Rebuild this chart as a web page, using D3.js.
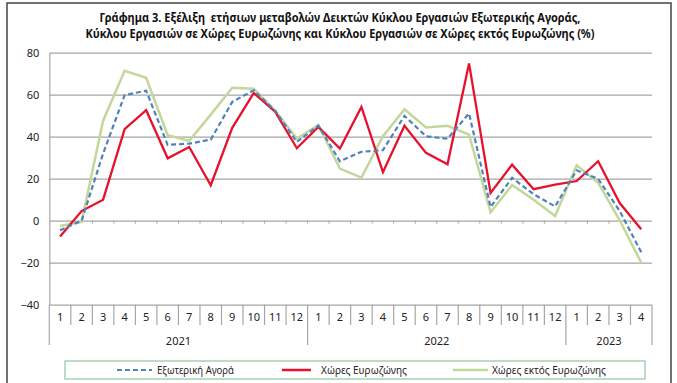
<!DOCTYPE html>
<html><head><meta charset="utf-8">
<script src="https://cdn.jsdelivr.net/npm/d3@7"></script>
<style>
html,body{margin:0;padding:0;background:#fff;}
svg{display:block;}
text.title{white-space:pre;}
</style>
</head><body>
<svg id="chart" width="677" height="383"></svg>
<script>
const titleLines = [
  "Γράφημα 3. Εξέλιξη  ετήσιων μεταβολών Δεικτών Κύκλου Εργασιών Εξωτερικής Αγοράς,",
  "Κύκλου Εργασιών σε Χώρες Ευρωζώνης και Κύκλου Εργασιών σε Χώρες εκτός Ευρωζώνης (%)"
];
const months = ["1","2","3","4","5","6","7","8","9","10","11","12","1","2","3","4","5","6","7","8","9","10","11","12","1","2","3","4"];
const yearLabels = ["2021","2022","2023"];
const yearCounts = [12,12,4];
const yTicks = [-40,-20,0,20,40,60,80];
const seriesNames = ["Εξωτερική Αγορά","Χώρες Ευρωζώνης","Χώρες εκτός Ευρωζώνης"];
const externalMarket = [-4.6,0,32,59.8,61.9,36.1,36.7,38.6,56.6,62.1,52.2,37.5,45.3,28.3,32.8,33.6,49.9,40.2,39,51.1,6.5,20.4,12.6,6.8,24.0,19.9,4.6,-15];
const eurozone = [-7.5,4.6,10,43.6,52.6,29.7,35.1,16.9,44.2,60.8,51.8,34.5,44.7,34.4,54.2,23.1,45.2,32.3,26.9,74.9,13.2,26.7,15.0,17.2,18.9,28.3,8.4,-4.1];
const nonEurozone = [-2.5,-0.6,47.6,71.4,68.1,40.7,38,50.5,63.3,62.8,52.3,39.1,45.6,24.8,20.5,40.2,53,44.4,45.2,41,4,17,10,2.2,26.4,18,0.2,-20];
const colors = ["#4F81BD","#E8112D","#C4D79B"];

(function(){
const svg = d3.select("#chart");
const font = "Noto Sans, sans-serif";

// outer frame
svg.append("rect").attr("x",7).attr("y",3).attr("width",664).attr("height",390)
  .attr("fill","#fff").attr("stroke","#444").attr("stroke-width",1.5);

// title
const titleW = [481, 509];
svg.selectAll("text.title").data(titleLines).join("text")
  .attr("class","title")
  .attr("x", (d,i)=>340 - titleW[i]/2).attr("y",(d,i)=>22 + i*16)
  .attr("textLength",(d,i)=>titleW[i]).attr("lengthAdjust","spacingAndGlyphs")
  .attr("font-family",font).attr("font-weight","bold").attr("font-size",12.5)
  .attr("fill","#111").text(d=>d);

const pl = 49.3, pr = 652, pt = 52.7, pb = 304.7;
const x = d3.scaleBand().domain(d3.range(months.length)).range([pl,pr]).padding(0);
const y = d3.scaleLinear().domain([-40,80]).range([pb,pt]);

// gridlines
const grid = svg.append("g").attr("transform",`translate(${pl},0)`)
  .call(d3.axisLeft(y).tickValues(yTicks).tickSize(-(pr-pl)).tickFormat(""));
grid.select(".domain").remove();
grid.selectAll("line").attr("stroke","#A6A6A6").attr("stroke-width",1.2);

// y labels
const yl = svg.append("g").attr("transform",`translate(${pl},0)`)
  .call(d3.axisLeft(y).tickValues(yTicks).tickSize(0).tickPadding(10));
yl.select(".domain").attr("stroke","#A6A6A6").attr("stroke-width",1.2);
yl.selectAll("text").attr("font-family",font).attr("font-size",11).attr("fill","#222");

// zero-line tick marks
const bounds = d3.range(months.length+1).map(i => i<months.length ? x(i) : pr);
svg.append("g").selectAll("line").data(bounds.slice(1,-1)).join("line")
  .attr("x1",d=>d).attr("x2",d=>d).attr("y1",y(0)).attr("y2",y(0)+3)
  .attr("stroke","#A6A6A6").attr("stroke-width",1);

// category axis at bottom
const xa = svg.append("g").attr("transform",`translate(0,${pb})`)
  .call(d3.axisBottom(x).tickSize(0).tickPadding(9).tickFormat(i=>months[i]));
xa.select(".domain").remove();
xa.selectAll("text").attr("font-family",font).attr("font-size",11).attr("fill","#222");

// separators
const yearStarts = [0];
yearCounts.forEach((c,i)=>yearStarts.push(yearStarts[i]+c));
const yearBounds = yearStarts.map(i => i<months.length ? x(i) : pr);
svg.append("g").selectAll("line").data(bounds).join("line")
  .attr("x1",d=>d).attr("x2",d=>d).attr("y1",pb)
  .attr("y2",d=> yearBounds.some(b=>Math.abs(b-d)<0.01) ? 345 : 325)
  .attr("stroke","#A6A6A6").attr("stroke-width",1.2);

svg.append("g").selectAll("text").data(yearLabels).join("text")
  .attr("x",(d,i)=>(yearBounds[i]+yearBounds[i+1])/2).attr("y",345)
  .attr("text-anchor","middle").attr("font-family",font).attr("font-size",11).attr("fill","#222")
  .text(d=>d);

// lines
const line = d3.line().x((d,i)=>x(i)+x.bandwidth()/2).y(d=>y(d));
const seriesData = [externalMarket, eurozone, nonEurozone];
const drawOrder = [2,1,0];
drawOrder.forEach(k=>{
  svg.append("path").datum(seriesData[k]).attr("d",line)
    .attr("fill","none").attr("stroke",colors[k])
    .attr("stroke-width", k===0 ? 2.2 : (k===1 ? 2.3 : 2.5))
    .attr("stroke-dasharray", k===0 ? "5,3" : null)
    .attr("stroke-linejoin","miter");
});

// legend
svg.append("rect").attr("x",65).attr("y",361).attr("width",580).attr("height",18)
  .attr("fill","#fff").attr("stroke","#8CC79C").attr("stroke-width",1.2);
const legX = [[117,152,157,77],[282,311,321,86],[453,488,492,114]];
const lg = svg.append("g").selectAll("g").data(seriesNames).join("g");
lg.append("line").attr("x1",(d,i)=>legX[i][0]).attr("x2",(d,i)=>legX[i][1])
  .attr("y1",370).attr("y2",370).attr("stroke",(d,i)=>colors[i])
  .attr("stroke-width",(d,i)=>i===0?2.2:2.5).attr("stroke-dasharray",(d,i)=>i===0?"5,3":null);
lg.append("text").attr("x",(d,i)=>legX[i][2]).attr("y",374)
  .attr("textLength",(d,i)=>legX[i][3]).attr("lengthAdjust","spacingAndGlyphs")
  .attr("font-family",font).attr("font-size",11).attr("fill","#222").text(d=>d);
})();
</script>
</body></html>
